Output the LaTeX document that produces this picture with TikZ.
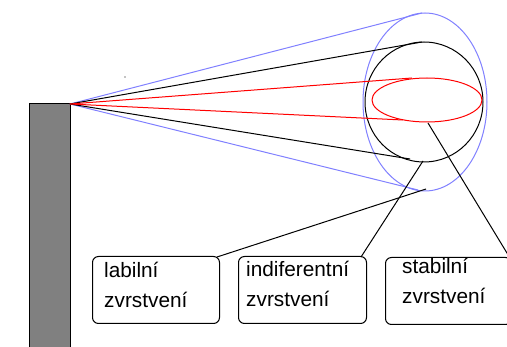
\documentclass[tikz,border=0pt]{standalone}
\usepackage{fontspec}
\setmainfont{Liberation Sans}
\begin{document}
\begin{tikzpicture}[x=1pt,y=-1pt,
  ln/.style={line width=1pt,line join=round},
  bluel/.style={ln,draw={rgb,255:red,128;green,128;blue,255}},
  redl/.style={ln,draw={rgb,255:red,255;green,0;blue,0}},
  blackl/.style={ln,draw=black},
  lbox/.style={draw,line width=1pt,rounded corners=6pt,anchor=north west,minimum height=67pt,inner sep=0pt},
  ltext/.style={anchor=base west,align=left,inner sep=0pt,font=\fontsize{20.8}{30}\selectfont}]
\useasboundingbox (0,0) rectangle (507,347);
% chimney
\draw[line width=1pt,fill={rgb,255:red,128;green,128;blue,128}] (29,349) -- (29,104) -- (70,104) -- (70,349);
\coordinate (src) at (70,104);
% shapes
\draw[bluel] (425,102) ellipse [x radius=62,y radius=89];
\draw[blackl] (424,102) ellipse [x radius=59,y radius=60];
\draw[redl] (427,100) ellipse [x radius=55,y radius=22];
\coordinate (bt) at (422,13);
\coordinate (bb) at (418,190);
\coordinate (kt) at (422,42);
\coordinate (kb) at (410,159);
\coordinate (rt) at (412,78);
\coordinate (rb) at (403,120);
\draw[bluel] (bt) -- (src) -- (bb);
\draw[blackl] (kt) -- (src) -- (kb);
\draw[redl] (rt) -- (src) -- (rb);
% stray dot
\fill (125,77) circle [radius=0.6];
% boxes
\node[lbox,minimum width=127pt] (lab) at (92,256) {};
\node[lbox,minimum width=128pt] (ind) at (238,256) {};
\node[lbox,minimum width=126pt] (sta) at (385,257) {};
\node[ltext] (labt) at (104,308) {labilní\\zvrstvení};
\node[ltext] (indt) at (246,307) {indiferentní\\zvrstvení};
\node[ltext] (stat) at (402,304) {stabilní\\zvrstvení};
% connectors
\coordinate (cb) at (426,189);
\coordinate (ck) at (423,161);
\coordinate (cr) at (428,123);
\draw[blackl] ([xshift=-3pt,yshift=-1pt]lab.north east) -- (cb);
\draw[blackl] ([xshift=-6pt,yshift=-1pt]ind.north east) -- (ck);
\draw[blackl] ([xshift=-2pt,yshift=-1pt]sta.north east) -- (cr);
\end{tikzpicture}
\end{document}
